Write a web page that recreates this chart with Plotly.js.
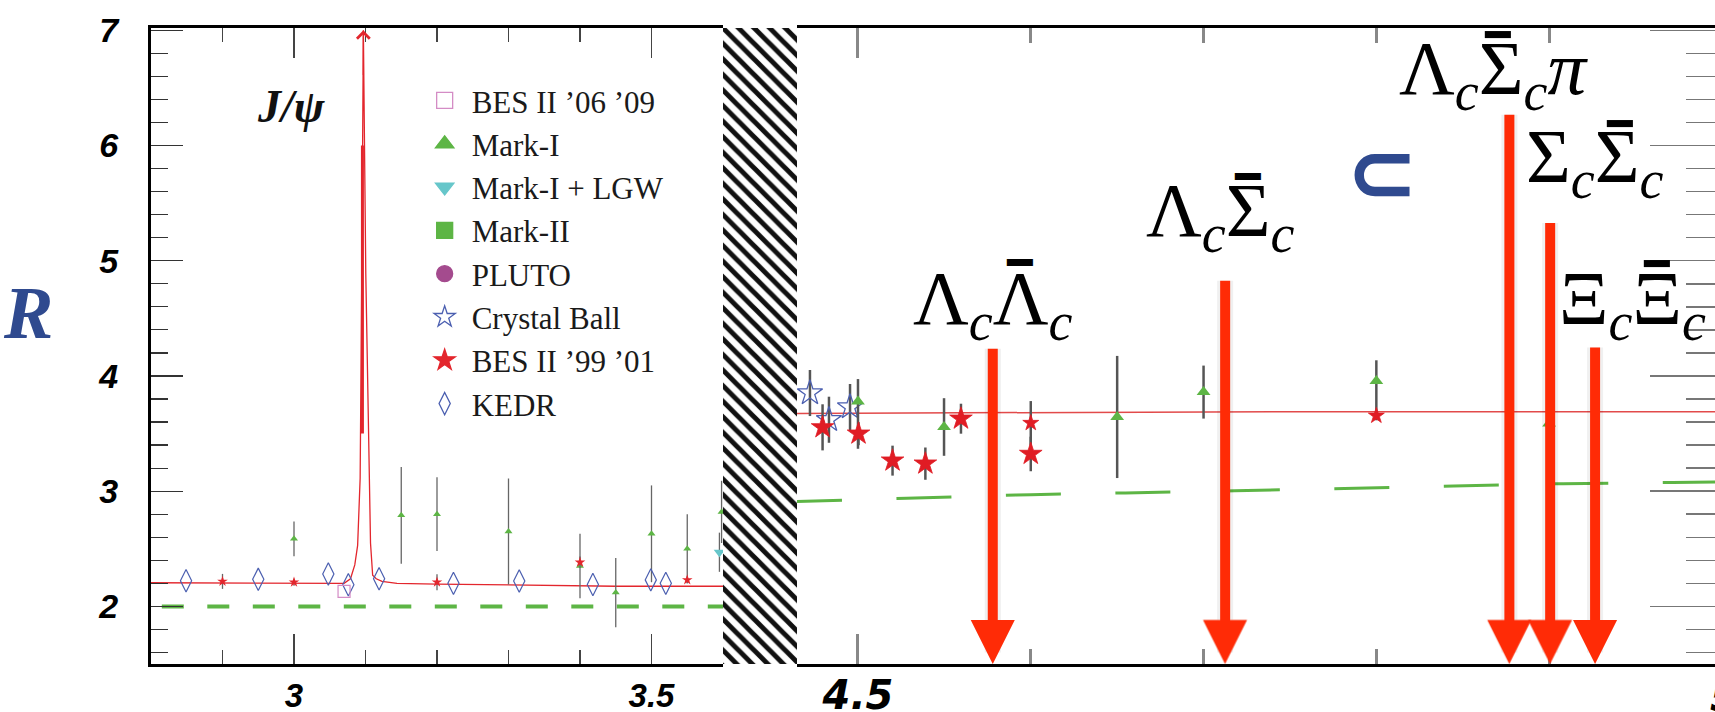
<!DOCTYPE html>
<html><head><meta charset="utf-8">
<script src="https://cdn.plot.ly/plotly-3.0.1.min.js"></script>
<style>html,body{margin:0;padding:0;background:#fff;}#chart{width:1715px;height:712px;}</style>
</head><body><div id="chart"></div>
<script>
// ================= DATA =================
// Legend series
const seriesNames = ["BES II \u201906 \u201909", "Mark-I", "Mark-I + LGW", "Mark-II", "PLUTO", "Crystal Ball", "BES II \u201999 \u201901", "KEDR"];

// ---- Left panel (2.8 - 3.6 GeV) ----
const bes0609X = [3.070];
const bes0609Y = [2.130];

const markIX_L = [3.00, 3.15, 3.20, 3.30, 3.40, 3.45, 3.50, 3.55, 3.598];
const markIY_L = [2.586, 2.79, 2.80, 2.65, 2.35, 2.12, 2.63, 2.50, 2.82];
const markIErr_L = [0.15, 0.42, 0.32, 0.46, 0.28, 0.30, 0.42, 0.30, 0.27];

const lgwX = [3.595];
const lgwY = [2.47];
const lgwErr = [0.17];

const markIIX = [];
const markIIY = [];
const plutoX = [];
const plutoY = [];

const bes9901X_L = [2.90, 3.00, 3.20, 3.40, 3.55];
const bes9901Y_L = [2.217, 2.21, 2.21, 2.383, 2.23];
const bes9901Err_L = [0.065, 0.03, 0.07, 0.05, 0.03];

const kedrX = [2.849, 2.950, 3.048, 3.076, 3.119, 3.223, 3.315, 3.418, 3.499, 3.520];
const kedrY = [2.223, 2.235, 2.281, 2.188, 2.240, 2.200, 2.220, 2.190, 2.230, 2.200];

// theory curve with J/psi peak
const curveX_L = [2.80, 2.90, 3.00, 3.05, 3.070, 3.079, 3.085, 3.089, 3.0925, 3.0948, 3.097, 3.1004, 3.104, 3.107, 3.110, 3.115, 3.123, 3.144, 3.20, 3.30, 3.40, 3.43, 3.45, 3.60];
const curveY_L = [2.205, 2.203, 2.198, 2.195, 2.20, 2.24, 2.36, 2.53, 3.11, 4.89, 7.00, 4.89, 3.50, 2.55, 2.27, 2.24, 2.217, 2.20, 2.194, 2.188, 2.183, 2.18, 2.175, 2.175];
const psiBandX = [3.0957, 3.0957];
const psiBandY = [3.5, 6.0];
// parton-model dashed line
const partonX_L = [2.80, 3.60];
const partonY_L = [2.0, 2.0];

// ---- Right panel (4.46 - 5.0 GeV) ----
const cbX = [4.4722, 4.4832, 4.4954];
const cbY = [3.852, 3.620, 3.730];
const cbErr = [0.20, 0.20, 0.20];

const bes9901X_R = [4.4795, 4.5003, 4.520, 4.539, 4.5596, 4.600, 4.600, 4.800];
const bes9901Y_R = [3.554, 3.499, 3.265, 3.239, 3.629, 3.592, 3.323, 3.655];
const bes9901Err_R = [0.20, 0.10, 0.13, 0.14, 0.13, 0.19, 0.15, 0.04];
const bes9901Size_R = [17, 17, 17, 17, 17, 12, 17, 12];

const markIX_R = [4.500, 4.5498, 4.650, 4.700, 4.800, 4.900];
const markIY_R = [3.778, 3.557, 3.644, 3.860, 3.956, 3.588];
const markIErrP_R = [0.195, 0.25, 0.53, 0.23, 0.18, 0.0];
const markIErrM_R = [0.41, 0.25, 0.53, 0.23, 0.30, 0.0];

const curveX_R = [4.4647, 4.60, 4.75, 4.996];
const curveY_R = [3.675, 3.685, 3.690, 3.690];

const partonX_R = [4.4647, 4.55, 4.60, 4.70, 4.80, 4.90, 4.996];
const partonY_R = [2.910, 2.945, 2.970, 2.997, 3.030, 3.063, 3.080];

// thresholds (arrows); the barred (anti-) particle gets its bar drawn above it
const thrLabels = [
  "\u039B<sub><i>c</i></sub>\u039B<sub><i>c</i></sub>",
  "\u039B<sub><i>c</i></sub>\u03A3<sub><i>c</i></sub>",
  "\u039B<sub><i>c</i></sub>\u03A3<sub><i>c</i></sub><i>\u03C0</i>",
  "\u03A3<sub><i>c</i></sub>\u03A3<sub><i>c</i></sub>",
  "\u039E<sub><i>c</i></sub>\u039E<sub><i>c</i></sub>"
];
const thrX = [4.578, 4.7125, 4.877, 4.9006, 4.9266];
const thrTop = [4.25, 4.84, 6.28, 5.34, 4.26];

// hatch band between the two panels
const gapX = [0.5];
const gapY = [1];

// ================= STYLE =================
const C_RED = '#e3262d';
const C_GREEN = '#5db545';
const C_CYAN = '#66c6ca';
const C_PINK = '#d48cc5';
const C_PURPLE = '#a44b8e';
const C_BLUE = '#4b5fb0';
const C_ARROW = '#ff2b06';

const symbols = ['square-open', 'triangle-up', 'triangle-down', 'square', 'circle', 'star-open', 'star', 'diamond-tall-open'];
const colors = [C_PINK, C_GREEN, C_CYAN, C_GREEN, C_PURPLE, C_BLUE, C_RED, C_BLUE];

const traces = [];

// legend entries
seriesNames.forEach((n, i) => {
  traces.push({
    type: 'scatter', mode: 'markers', x: [null], y: [null], xaxis: 'x', yaxis: 'y',
    name: n, legendgroup: n, showlegend: true, hoverinfo: 'skip',
    marker: {symbol: symbols[i], size: 16, color: colors[i], line: {color: colors[i], width: 1.3}}
  });
});

function errSty(arr, th, col, arrM) {
  const e = {type: 'data', array: arr, visible: true, color: col, thickness: th, width: 0};
  if (arrM) { e.symmetric = false; e.arrayminus = arrM; }
  return e;
}

// left panel lines
traces.push({type: 'scatter', mode: 'lines', x: partonX_L, y: partonY_L, xaxis: 'x', yaxis: 'y', showlegend: false, hoverinfo: 'skip',
  line: {color: C_GREEN, width: 4, dash: '0px,10.8px,22px,12.7px'}});
traces.push({type: 'scatter', mode: 'lines', x: curveX_L, y: curveY_L, xaxis: 'x', yaxis: 'y', showlegend: false, hoverinfo: 'skip',
  line: {color: C_RED, width: 1.3}});
traces.push({type: 'scatter', mode: 'lines', x: psiBandX, y: psiBandY, xaxis: 'x', yaxis: 'y', showlegend: false, hoverinfo: 'skip',
  line: {color: C_RED, width: 3}});

// left panel data
traces.push({type: 'scatter', mode: 'markers', x: markIX_L, y: markIY_L, xaxis: 'x', yaxis: 'y', name: seriesNames[1], legendgroup: seriesNames[1], showlegend: false,
  error_y: errSty(markIErr_L, 1.3, '#666'), marker: {symbol: 'triangle-up', size: 7, color: C_GREEN}});
traces.push({type: 'scatter', mode: 'markers', x: lgwX, y: lgwY, xaxis: 'x', yaxis: 'y', name: seriesNames[2], legendgroup: seriesNames[2], showlegend: false,
  error_y: errSty(lgwErr, 1.3, '#666'), marker: {symbol: 'triangle-down', size: 10, color: C_CYAN}});
traces.push({type: 'scatter', mode: 'markers', x: markIIX, y: markIIY, xaxis: 'x', yaxis: 'y', name: seriesNames[3], legendgroup: seriesNames[3], showlegend: false,
  marker: {symbol: 'square', size: 8, color: C_GREEN}});
traces.push({type: 'scatter', mode: 'markers', x: plutoX, y: plutoY, xaxis: 'x', yaxis: 'y', name: seriesNames[4], legendgroup: seriesNames[4], showlegend: false,
  marker: {symbol: 'circle', size: 8, color: C_PURPLE}});
traces.push({type: 'scatter', mode: 'markers', x: bes9901X_L, y: bes9901Y_L, xaxis: 'x', yaxis: 'y', name: seriesNames[6], legendgroup: seriesNames[6], showlegend: false,
  error_y: errSty(bes9901Err_L, 1.3, '#666'), marker: {symbol: 'star', size: 8, color: C_RED}});
traces.push({type: 'scatter', mode: 'markers', x: kedrX, y: kedrY, xaxis: 'x', yaxis: 'y', name: seriesNames[7], legendgroup: seriesNames[7], showlegend: false,
  marker: {symbol: 'diamond-tall-open', size: 16, color: C_BLUE, line: {color: C_BLUE, width: 1.2}}});
traces.push({type: 'scatter', mode: 'markers', x: bes0609X, y: bes0609Y, xaxis: 'x', yaxis: 'y', name: seriesNames[0], legendgroup: seriesNames[0], showlegend: false,
  marker: {symbol: 'square-open', size: 12, color: C_PINK, line: {color: C_PINK, width: 1.2}}});

// right panel lines
traces.push({type: 'scatter', mode: 'lines', x: partonX_R, y: partonY_R, xaxis: 'x2', yaxis: 'y2', showlegend: false, hoverinfo: 'skip',
  line: {color: C_GREEN, width: 3, dash: '45px,54.5px,10px,0px'}});
traces.push({type: 'scatter', mode: 'lines', x: curveX_R, y: curveY_R, xaxis: 'x2', yaxis: 'y2', showlegend: false, hoverinfo: 'skip',
  line: {color: '#e24a4a', width: 1.5}});

// right panel data
traces.push({type: 'scatter', mode: 'markers', x: cbX, y: cbY, xaxis: 'x2', yaxis: 'y2', name: seriesNames[5], legendgroup: seriesNames[5], showlegend: false,
  error_y: errSty(cbErr, 2.5, '#555'), marker: {symbol: 'star-open', size: 19, color: C_BLUE, line: {color: C_BLUE, width: 1.3}}});
traces.push({type: 'scatter', mode: 'markers', x: markIX_R, y: markIY_R, xaxis: 'x2', yaxis: 'y2', name: seriesNames[1], legendgroup: seriesNames[1], showlegend: false,
  error_y: errSty(markIErrP_R, 2.5, '#555', markIErrM_R), marker: {symbol: 'triangle-up', size: 12, color: C_GREEN}});
traces.push({type: 'scatter', mode: 'markers', x: bes9901X_R, y: bes9901Y_R, xaxis: 'x2', yaxis: 'y2', name: seriesNames[6], legendgroup: seriesNames[6], showlegend: false,
  error_y: errSty(bes9901Err_R, 2.5, '#555'), marker: {symbol: 'star', size: bes9901Size_R, color: '#e01c24', opacity: 1, line: {color: '#e01c24', width: 0.8}}});

// hatch band
traces.push({type: 'bar', x: gapX, y: gapY, width: [1], xaxis: 'x3', yaxis: 'y3', showlegend: false, hoverinfo: 'skip',
  marker: {color: '#ffffff', line: {width: 0}, pattern: {shape: '\\', fgcolor: '#111', bgcolor: '#ffffff', size: 11, solidity: 0.45}}});

// ================= LAYOUT =================
const tickFont = {family: 'Liberation Sans, Arial, sans-serif', size: 33, color: '#000', weight: 'bold', style: 'italic'};

const annotations = [];
// axis label R
annotations.push({xref: 'paper', yref: 'paper', x: -0.0786, y: 0.552, xanchor: 'center', yanchor: 'middle', showarrow: false,
  text: '<b><i>R</i></b>', font: {family: 'Liberation Serif, serif', size: 74, color: '#2f4a8f'}});
// J/psi
annotations.push({xref: 'x', yref: 'y', x: 2.997, y: 6.34, xanchor: 'center', yanchor: 'middle', showarrow: false,
  text: '<b><i>J/\u03C8</i></b>', font: {family: 'Liberation Serif, serif', size: 46, color: '#111'}});
// J/psi peak arrowhead
annotations.push({xref: 'x', yref: 'y', axref: 'x', ayref: 'y', x: 3.097, y: 7.0, ax: 3.097, ay: 6.6, text: '', showarrow: true,
  arrowhead: 4, arrowsize: 1.9, arrowwidth: 1.3, arrowcolor: C_RED, font: {size: 1}});
// blue fragment
annotations.push({xref: 'x2', yref: 'y2', x: 4.8035, y: 5.767, xanchor: 'center', yanchor: 'middle', showarrow: false,
  text: '<b>\u2282</b>', font: {family: 'DejaVu Sans, sans-serif', size: 86, color: '#2f4a8f'}});
// partially visible tick label "5" at the right edge
annotations.push({xref: 'paper', yref: 'paper', x: 1.0055, y: -0.052, xanchor: 'center', yanchor: 'middle', showarrow: false,
  text: '5', font: {family: 'DejaVu Sans, sans-serif', size: 40, color: '#000', weight: 'bold', style: 'italic'}});

// threshold arrows (shadow + arrow)
thrX.forEach((x, i) => {
  annotations.push({xref: 'x2', yref: 'y2', axref: 'x2', ayref: 'y2', x: x, y: 1.5, ax: x, ay: thrTop[i], text: '', showarrow: true,
    arrowhead: 2, arrowsize: 0.55, arrowwidth: 16, arrowcolor: 'rgba(0,0,0,0.06)', font: {size: 1}});
  annotations.push({xref: 'x2', yref: 'y2', axref: 'x2', ayref: 'y2', x: x, y: 1.5, ax: x, ay: thrTop[i], text: '', showarrow: true,
    arrowhead: 2, arrowsize: 0.88, arrowwidth: 10, arrowcolor: C_ARROW, font: {size: 1}});
});
// threshold labels
const thrLabX = [4.5779, 4.7096, 4.8682, 4.9266, 4.948];
const thrLabY = [4.630, 5.394, 6.627, 5.863, 4.630];
thrLabels.forEach((t, i) => {
  annotations.push({xref: 'x2', yref: 'y2', x: thrLabX[i], y: thrLabY[i], xanchor: 'center', yanchor: 'middle', showarrow: false,
    text: t, font: {family: 'Liberation Serif, serif', size: 77, color: '#000'}});
});
// anti-particle bars over the second baryon
const barX = [4.5935, 4.7252, 4.8699, 4.9405, 4.9619];
const barY = [4.982, 5.728, 6.965, 6.193, 4.973];
barX.forEach((x, i) => {
  annotations.push({xref: 'x2', yref: 'y2', x: x, y: barY[i], xanchor: 'center', yanchor: 'middle', showarrow: false,
    text: '\u2501', font: {family: 'DejaVu Sans Mono, monospace', size: 42, color: '#000'}});
});

const layout = {
  width: 1715, height: 712,
  margin: {l: 151, r: 0, t: 28, b: 48, pad: 0},
  paper_bgcolor: '#fff', plot_bgcolor: 'rgba(0,0,0,0)',
  showlegend: true,
  legend: {x: 0.1705, y: 0.928, xanchor: 'left', yanchor: 'top', bgcolor: 'rgba(0,0,0,0)', borderwidth: 0,
    itemwidth: 44, tracegroupgap: 0, traceorder: 'normal',
    font: {family: 'Liberation Serif, serif', size: 31, color: '#1a1a1a'}},
  xaxis: {domain: [0, 0.36573], range: [2.8, 3.6], anchor: 'y', showgrid: false, zeroline: false,
    showline: true, linecolor: '#000', linewidth: 3, mirror: 'allticks',
    ticks: 'inside', tick0: 0, dtick: 0.5, ticklen: 30, tickwidth: 1.3, tickcolor: '#444',
    minor: {ticks: 'inside', dtick: 0.1, tick0: 0, ticklen: 14, tickwidth: 1.3, tickcolor: '#444', showgrid: false},
    tickfont: tickFont, ticklabelstandoff: 0},
  yaxis: {domain: [0, 1], range: [1.5, 7.02], anchor: 'x', showgrid: false, zeroline: false,
    showline: true, linecolor: '#000', linewidth: 3, mirror: false,
    ticks: 'inside', tick0: 0, dtick: 1, ticklen: 32, tickwidth: 1.3, tickcolor: '#333',
    minor: {ticks: 'inside', dtick: 0.2, tick0: 0, ticklen: 17, tickwidth: 1.2, tickcolor: '#333', showgrid: false},
    tickfont: {family: 'Liberation Sans, Arial, sans-serif', size: 34, color: '#000', weight: 'bold', style: 'italic'}, ticklabelstandoff: 23},
  xaxis2: {domain: [0.41304, 1], range: [4.4647, 4.996], anchor: 'y2', showgrid: false, zeroline: false,
    showline: true, linecolor: '#000', linewidth: 3, mirror: 'allticks',
    ticks: 'inside', tick0: 0, dtick: 0.5, ticklen: 30, tickwidth: 3, tickcolor: '#888',
    minor: {ticks: 'inside', dtick: 0.1, tick0: 0, ticklen: 15, tickwidth: 3, tickcolor: '#888', showgrid: false},
    tickfont: {family: 'DejaVu Sans, sans-serif', size: 40, color: '#000', weight: 'bold', style: 'italic'}, ticklabelstandoff: -6},
  yaxis2: {domain: [0, 1], range: [1.5, 7.02], anchor: 'x2', side: 'right', showgrid: false, zeroline: false,
    showline: false, showticklabels: false,
    ticks: 'inside', tick0: 0, dtick: 1, ticklen: 65, tickwidth: 1.5, tickcolor: '#777',
    minor: {ticks: 'inside', dtick: 0.2, tick0: 0, ticklen: 29, tickwidth: 1.5, tickcolor: '#777', showgrid: false}},
  xaxis3: {domain: [0.36573, 0.41304], range: [0, 1], anchor: 'y3', visible: false, fixedrange: true},
  yaxis3: {domain: [0, 1], range: [0, 1], anchor: 'x3', visible: false, fixedrange: true},
  bargap: 0,
  annotations: annotations
};

Plotly.newPlot('chart', traces, layout, {displayModeBar: false, staticPlot: true});
</script>
</body></html>
